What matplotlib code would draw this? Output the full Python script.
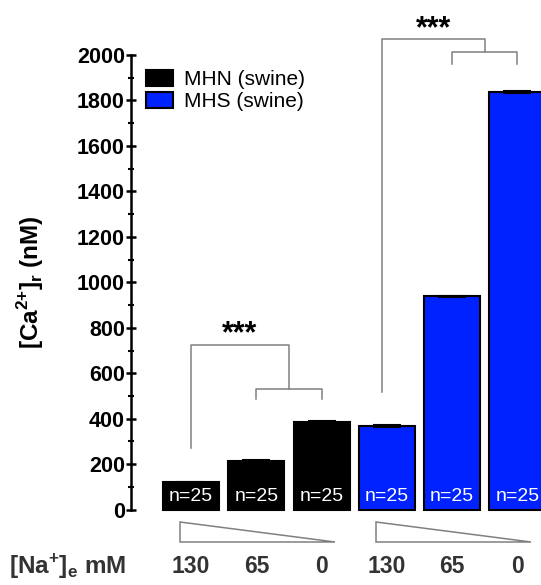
import matplotlib.pyplot as plt
from matplotlib.patches import Polygon

plt.rcParams['font.family'] = ['Liberation Sans', 'DejaVu Sans']
plt.rcParams['mathtext.fontset'] = 'custom'
plt.rcParams['mathtext.rm'] = 'Liberation Sans'
plt.rcParams['mathtext.bf'] = 'Liberation Sans:bold'

# data
groups = ['MHN (swine)', 'MHS (swine)']
na_labels = ['130', '65', '0', '130', '65', '0']
ca_mhn = [120, 215, 385]
ca_mhs = [368, 938, 1838]
sem_mhn = [3, 3, 4]
sem_mhs = [4, 4, 5]
n_cells = [25, 25, 25, 25, 25, 25]

colors = ['black', '#0022ff']
gray = '#808080'

fig = plt.figure(figsize=(5.41, 5.85), dpi=100)
ax = fig.add_axes([131 / 541, 75.3 / 585, 410 / 541, 454.7 / 585])

pos_mhn = [0, 1, 2]
pos_mhs = [3, 4, 5]
for pos, vals, err, col, lab in [(pos_mhn, ca_mhn, sem_mhn, colors[0], groups[0]),
                                 (pos_mhs, ca_mhs, sem_mhs, colors[1], groups[1])]:
    ax.bar(pos, vals, width=0.86, color=col, edgecolor='black', linewidth=1.5,
           label=lab, clip_on=False)
    ax.errorbar(pos, vals, yerr=err, fmt='none', ecolor='black', elinewidth=1.2,
                capsize=10, capthick=1.5, clip_on=False)

for i, n in enumerate(n_cells):
    ax.text(i, 58, f'n={n}', color='white', ha='center', va='center', fontsize=14)

ax.set_xlim(-0.92, 5.36)
ax.set_ylim(0, 2000)
ax.set_xticks([])
for s in ['top', 'right', 'bottom']:
    ax.spines[s].set_visible(False)
ax.spines['left'].set_linewidth(1.8)
ax.set_yticks(range(0, 2001, 200))
ax.set_yticks(range(100, 2000, 200), minor=True)
ax.tick_params(axis='y', which='major', direction='inout', length=7, width=1.8,
               labelsize=15.5, pad=1)
ax.tick_params(axis='y', which='minor', direction='inout', length=4, width=1.5)
for t in ax.get_yticklabels():
    t.set_fontweight('bold')
ax.set_ylabel('[Ca$^{\\mathbf{2{+}}}$]$_{\\mathbf{r}}$ (nM)', fontsize=17.5,
              fontweight='bold', labelpad=22)


def bracket(ax, x0, x1, x2, y_leg0, y_top, y_drop, y_sub):
    mid = (x1 + x2) / 2
    kw = dict(color=gray, lw=1.1, clip_on=False)
    ax.plot([x0, x0, mid, mid], [y_leg0, y_top, y_top, y_drop], **kw)
    ax.plot([x1, x1, x2, x2], [y_sub, y_drop, y_drop, y_sub], **kw)
    ax.text((x0 + mid) / 2, y_top - 22, '***', ha='center', va='bottom',
            fontsize=22, fontweight='bold', clip_on=False)


bracket(ax, 0, 1, 2, 273, 726, 530, 486)
bracket(ax, 2.92, 4, 5, 519, 2071, 2012, 1961)

# concentration wedges
for start in [0, 3]:
    wedge = Polygon([(start - 0.17, -54), (start - 0.17, -142), (start + 2.2, -142)],
                    closed=True, facecolor='white', edgecolor=gray, lw=1.1,
                    clip_on=False)
    ax.add_patch(wedge)

for i, lab in enumerate(na_labels):
    ax.text(i, -250, lab, ha='center', va='center', fontsize=16.5,
            fontweight='bold', color='#333333', clip_on=False)
ax.text(-1.0, -250, '[Na$^{\\mathbf{+}}$]$_{\\mathbf{e}}$ mM', ha='right', va='center',
        fontsize=17.5, fontweight='bold', color='#333333', clip_on=False)

ax.legend(loc='upper left', bbox_to_anchor=(0.017, 0.985), frameon=False,
          fontsize=15, handlelength=1.3, handleheight=0.82, labelspacing=0.1,
          handletextpad=0.5, borderaxespad=0)

fig.savefig('out.png', dpi=100)
